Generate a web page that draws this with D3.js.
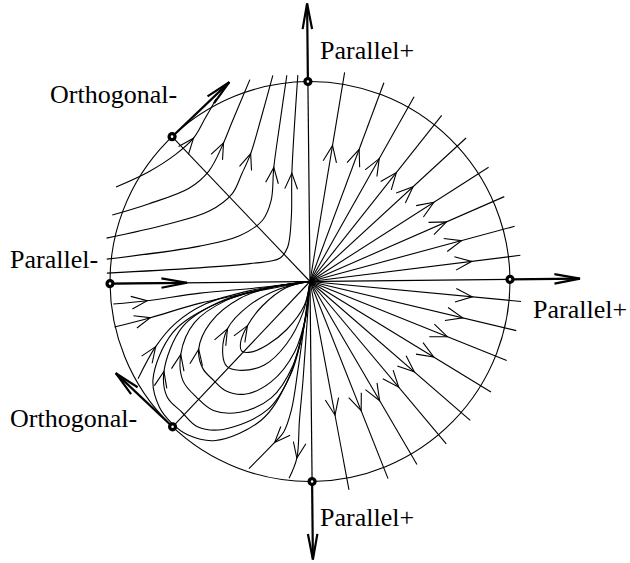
<!DOCTYPE html>
<meta charset="utf-8">
<style>
  body { margin: 0; background: #fff; }
  text { font-family: "Liberation Serif", "Times New Roman", serif; font-size: 26px; fill: #000; }
</style>
<svg width="630" height="563"></svg>
<script src="https://cdn.jsdelivr.net/npm/d3@7/dist/d3.min.js"></script>
<script>
// everything is in disk units: the circle is radius 1, x to the right, y up

// straight trajectories leaving the origin in the right half (angle in degrees)
var rayAngles = [80, 69, 60, 51, 42, 32, 23, 14.5, 6.5, -6, -14, -22.5, -32, -41.5, -50.6, -60.3, -69, -80]
// radius where the arrow sits on each ray
var rayArrowR = [0.69, 0.705, 0.705, 0.695, 0.70, 0.735, 0.745, 0.785, 0.815, 0.815, 0.785, 0.74, 0.725, 0.69, 0.69, 0.69, 0.695, 0.68]
var rayEnd = 1.06

// upper left: curves from the left boundary turning up to the top
var upperCurves = [
  [[-0.965, 0.4825], [-0.80, 0.5575], [-0.665, 0.6425], [-0.575, 0.7225], [-0.515, 0.8225], [-0.46, 0.9175]],
  [[-0.985, 0.3425], [-0.80, 0.3975], [-0.60, 0.4725], [-0.50, 0.5575], [-0.425, 0.6975], [-0.385, 0.7925], [-0.29, 1.0125]],
  [[-1.015, 0.2275], [-0.715, 0.2925], [-0.50, 0.3575], [-0.385, 0.4425], [-0.335, 0.5425], [-0.29, 0.6425], [-0.235, 0.8225], [-0.175, 1.0325]],
  [[-1.015, 0.1225], [-0.55, 0.1825], [-0.35, 0.2325], [-0.235, 0.3075], [-0.19, 0.4075], [-0.175, 0.5725], [-0.14, 0.8075], [-0.105, 1.0325]],
  [[-1.015, 0.0525], [-0.30, 0.0925], [-0.15, 0.1175], [-0.11, 0.1725], [-0.09, 0.3225], [-0.085, 0.5425], [-0.05, 1.0325]]
]
var upperArrowAt = [3, 4, 5, 5, 5]

// lower left: curves from the boundary into the origin
var inCurves = [
  [[-0.985, -0.1025], [-0.815, -0.0875], [-0.55, -0.0525], [-0.25, -0.0275], [0, 0]],
  [[-0.98, -0.2175], [-0.80, -0.1725], [-0.55, -0.1025], [-0.25, -0.0425], [0, 0]],
  [[-0.865, -0.4775], [-0.775, -0.3175], [-0.675, -0.2025], [-0.525, -0.1075], [-0.30, -0.0425], [0, 0]]
]
var inArrowAt = [1, 1, 1]

// lower left: loops leaving the origin downwards and coming back from the left
var loops = [
  [[0, 0], [-0.03, -0.12], [-0.12, -0.24], [-0.2175, -0.315], [-0.30, -0.35], [-0.345, -0.345], [-0.35, -0.30], [-0.315, -0.2175], [-0.24, -0.12], [-0.12, -0.03], [0, 0]],
  [[0, 0], [-0.035, -0.15], [-0.12, -0.31], [-0.2325, -0.415], [-0.36, -0.44], [-0.42, -0.42], [-0.44, -0.36], [-0.415, -0.2325], [-0.31, -0.12], [-0.15, -0.035], [0, 0]],
  [[0, 0], [-0.02, -0.16], [-0.08, -0.35], [-0.2, -0.50], [-0.3325, -0.56], [-0.43, -0.54], [-0.488, -0.488], [-0.54, -0.43], [-0.56, -0.3325], [-0.50, -0.2], [-0.35, -0.08], [-0.16, -0.02], [0, 0]],
  [[0, 0], [-0.025, -0.19], [-0.09, -0.42], [-0.2, -0.58], [-0.3575, -0.65], [-0.49, -0.64], [-0.573, -0.573], [-0.64, -0.49], [-0.65, -0.3575], [-0.58, -0.2], [-0.42, -0.09], [-0.19, -0.025], [0, 0]],
  [[0, 0], [-0.03, -0.21], [-0.1, -0.46], [-0.22, -0.64], [-0.4425, -0.735], [-0.57, -0.72], [-0.647, -0.647], [-0.72, -0.57], [-0.735, -0.4425], [-0.64, -0.22], [-0.46, -0.1], [-0.21, -0.03], [0, 0]],
  [[0, 0], [-0.035, -0.23], [-0.12, -0.5], [-0.25, -0.69], [-0.48, -0.79], [-0.62, -0.76], [-0.70, -0.70], [-0.76, -0.62], [-0.79, -0.48], [-0.69, -0.25], [-0.5, -0.12], [-0.23, -0.035], [0, 0]]
]
var loopArrowAt = [7, 7, 8, 8, 8, -1]

// lower: curves from the origin down to the bottom boundary
var outCurves = [
  [[0, 0], [-0.035, -0.2425], [-0.065, -0.4425], [-0.10, -0.6425], [-0.14, -0.7525], [-0.185, -0.8025], [-0.25, -0.8675], [-0.315, -0.9325]],
  [[0, 0], [-0.02, -0.2425], [-0.04, -0.4925], [-0.06, -0.6925], [-0.075, -0.8825], [-0.115, -0.9825]]
]
var outArrowAt = [5, 4]

// equilibria at infinity (angle on the circle, degrees)
var pointAngles = [90, 0, 180, 270, 133, 226]
// the thick arrows: [from, to]
var bigArrows = [
  [[0, 1], [0, 1.39]],
  [[0, -1], [0, -1.39]],
  [[1, 0], [1.35, 0]],
  [[-1, 0], [-0.615, 0]],
  [[-0.682, 0.731], [-0.393, 1.001]],
  [[-0.695, -0.719], [-0.976, -0.448]]
]
// diagonal lines from the origin to the orthogonal points
var diagonals = [133, 226]

var labels = ['Parallel+', 'Orthogonal-', 'Parallel-', 'Parallel+', 'Orthogonal-', 'Parallel+']
var labelAt = [[0.05, 1.1125], [-1.30, 0.8925], [-1.50, 0.0675], [1.115, -0.1825], [-1.50, -0.7275], [0.05, -1.2225]]

var svg = d3.select('svg')
var cx = 310, cy = 281.5, R = 200
var x = d3.scaleLinear().domain([-1, 1]).range([cx - R, cx + R])
var y = d3.scaleLinear().domain([-1, 1]).range([cy + R, cy - R])
var rad = Math.PI / 180

var g = svg.append('g').attr('transform', 'rotate(-0.6,' + cx + ',' + cy + ')')

var line = d3.line()
  .x(function (d) { return x(d[0]) })
  .y(function (d) { return y(d[1]) })
  .curve(d3.curveCatmullRom.alpha(0.5))

function chevron(px, py, ang, len, half, w) {
  var a1 = ang + Math.PI - half, a2 = ang + Math.PI + half
  g.append('path')
    .attr('d', 'M' + (px + len * Math.cos(a1)) + ',' + (py + len * Math.sin(a1)) +
      'L' + px + ',' + py +
      'L' + (px + len * Math.cos(a2)) + ',' + (py + len * Math.sin(a2)))
    .attr('fill', 'none').attr('stroke', '#000').attr('stroke-width', w)
    .attr('stroke-linejoin', 'miter')
}

function curveArrow(pts, k) {
  if (k < 1) return
  var a = pts[k - 1], b = pts[k + 1]
  var ang = Math.atan2(y(b[1]) - y(a[1]), x(b[0]) - x(a[0]))
  chevron(x(pts[k][0]), y(pts[k][1]), ang, 17, 22 * rad, 1.1)
}

function drawCurves(list, arrowAt) {
  g.append('g').selectAll('path').data(list).enter().append('path')
    .attr('d', line)
    .attr('fill', 'none').attr('stroke', '#000').attr('stroke-width', 1.1)
  list.forEach(function (pts, i) { curveArrow(pts, arrowAt[i]) })
}

// boundary circle
g.append('circle').attr('cx', x(0)).attr('cy', y(0)).attr('r', x(1) - x(0))
  .attr('fill', 'none').attr('stroke', '#000').attr('stroke-width', 1.1)

// axes inside the disk
g.append('line').attr('x1', x(0)).attr('y1', y(1)).attr('x2', x(0)).attr('y2', y(-1))
  .attr('stroke', '#000').attr('stroke-width', 1.2)
g.append('line').attr('x1', x(-1)).attr('y1', y(0)).attr('x2', x(1)).attr('y2', y(0))
  .attr('stroke', '#000').attr('stroke-width', 1.2)

// diagonals
g.append('g').selectAll('line').data(diagonals).enter().append('line')
  .attr('x1', x(0)).attr('y1', y(0))
  .attr('x2', function (d) { return x(Math.cos(d * rad)) })
  .attr('y2', function (d) { return y(Math.sin(d * rad)) })
  .attr('stroke', '#000').attr('stroke-width', 1.1)

// right half rays
g.append('g').selectAll('line').data(rayAngles).enter().append('line')
  .attr('x1', x(0)).attr('y1', y(0))
  .attr('x2', function (d) { return x(rayEnd * Math.cos(d * rad)) })
  .attr('y2', function (d) { return y(rayEnd * Math.sin(d * rad)) })
  .attr('stroke', '#000').attr('stroke-width', 1.1)
rayAngles.forEach(function (a, i) {
  var r = rayArrowR[i]
  chevron(x(r * Math.cos(a * rad)), y(r * Math.sin(a * rad)), -a * rad, 18, 22 * rad, 1.1)
})

drawCurves(upperCurves, upperArrowAt)
drawCurves(inCurves, inArrowAt)
drawCurves(loops, loopArrowAt)
drawCurves(outCurves, outArrowAt)

// thick arrows
bigArrows.forEach(function (a) {
  var x1 = x(a[0][0]), y1 = y(a[0][1]), x2 = x(a[1][0]), y2 = y(a[1][1])
  g.append('line').attr('x1', x1).attr('y1', y1).attr('x2', x2).attr('y2', y2)
    .attr('stroke', '#000').attr('stroke-width', 2.2)
  chevron(x2, y2, Math.atan2(y2 - y1, x2 - x1), 26, 10.5 * rad, 2.2)
})

// points at infinity
var pts = g.append('g').selectAll('g').data(pointAngles).enter().append('g')
  .attr('transform', function (d) { return 'translate(' + x(Math.cos(d * rad)) + ',' + y(Math.sin(d * rad)) + ')' })
pts.append('circle').attr('r', 4.6).attr('fill', '#000')
pts.append('circle').attr('r', 1.3).attr('fill', '#fff')

// labels
svg.append('g').selectAll('text').data(labels).enter().append('text')
  .attr('x', function (d, i) { return x(labelAt[i][0]) })
  .attr('y', function (d, i) { return y(labelAt[i][1]) })
  .text(function (d) { return d })
</script>
